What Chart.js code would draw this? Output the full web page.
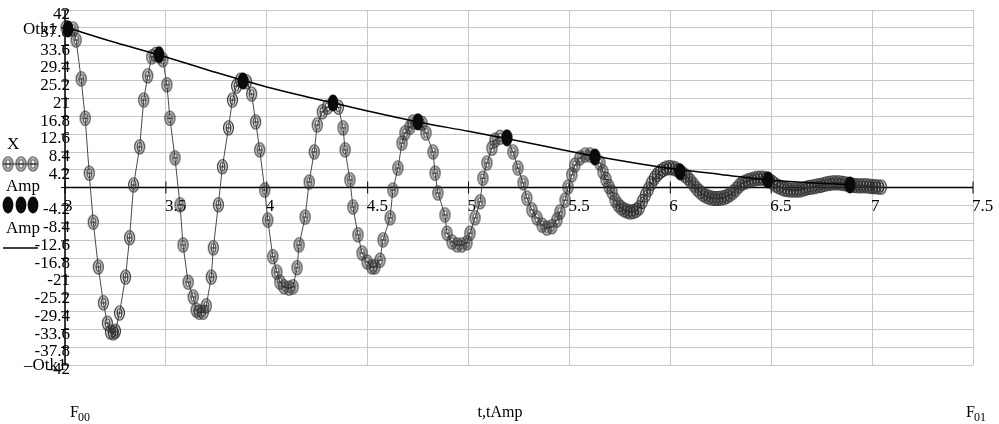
<!DOCTYPE html>
<html>
<head>
<meta charset="utf-8">
<script src="https://cdn.jsdelivr.net/npm/chart.js@4.4.1/dist/chart.umd.min.js"></script>
<style>
  html, body { margin: 0; padding: 0; background: #fff; }
  #wrap { width: 999px; height: 424px; position: relative; }
</style>
</head>
<body>
<div id="wrap"><canvas id="myChart"></canvas></div>
<script>
// axis ticks
const xTicks = [3, 3.5, 4, 4.5, 5, 5.5, 6, 6.5, 7, 7.5];
const xTickLabels = ['3', '3.5', '4', '4.5', '5', '5.5', '6', '6.5', '7', '7.5'];
const yTicks = [42, 37.8, 33.6, 29.4, 25.2, 21, 16.8, 12.6, 8.4, 4.2, 0,
    -4.2, -8.4, -12.6, -16.8, -21, -25.2, -29.4, -33.6, -37.8, -42];
const yTickLabels = ['42', '37.8', '33.6', '29.4', '25.2', '21', '16.8', '12.6', '8.4', '4.2', '',
    '-4.2', '-8.4', '-12.6', '-16.8', '-21', '-25.2', '-29.4', '-33.6', '-37.8', '-42'];

// X(t) - solver output
const tX = [
    3.005, 3.04, 3.055, 3.08, 3.10, 3.12, 3.14, 3.165, 3.19, 3.21,
    3.225, 3.24, 3.25, 3.27, 3.30, 3.32, 3.34, 3.37, 3.39, 3.41,
    3.43, 3.45, 3.485, 3.505, 3.52, 3.545, 3.57, 3.585, 3.61, 3.635,
    3.65, 3.665, 3.685, 3.70, 3.725, 3.735, 3.76, 3.78, 3.81, 3.83,
    3.85, 3.87, 3.90, 3.925, 3.945, 3.965, 3.99, 4.005, 4.03, 4.05,
    4.065, 4.085, 4.11, 4.13, 4.15, 4.16, 4.19, 4.21, 4.235, 4.25,
    4.275, 4.30, 4.355, 4.378, 4.388, 4.412, 4.427, 4.452, 4.472, 4.497,
    4.521, 4.536, 4.561, 4.576, 4.611, 4.625, 4.650, 4.670, 4.685, 4.710,
    4.724, 4.749, 4.769, 4.789, 4.824, 4.834, 4.848, 4.883, 4.893, 4.918,
    4.943, 4.967, 4.992, 5.007, 5.032, 5.057, 5.071, 5.091, 5.116, 5.131,
    5.156, 5.190, 5.220, 5.245, 5.270, 5.289, 5.314, 5.339, 5.364, 5.388,
    5.413, 5.438, 5.453, 5.478, 5.493, 5.512, 5.527, 5.552, 5.577, 5.602,
    5.626, 5.651, 5.666, 5.681, 5.696, 5.711, 5.726, 5.741, 5.756, 5.771,
    5.786, 5.801, 5.816, 5.831, 5.846, 5.861, 5.876, 5.891, 5.906, 5.921,
    5.936, 5.951, 5.966, 5.981, 5.996, 6.011, 6.026, 6.041, 6.056, 6.071,
    6.086, 6.101, 6.116, 6.131, 6.146, 6.161, 6.176, 6.191, 6.206, 6.221,
    6.236, 6.251, 6.266, 6.281, 6.296, 6.311, 6.326, 6.341, 6.356, 6.371,
    6.386, 6.401, 6.416, 6.431, 6.446, 6.461, 6.476, 6.491, 6.506, 6.521,
    6.536, 6.551, 6.566, 6.581, 6.596, 6.611, 6.626, 6.641, 6.656, 6.671,
    6.686, 6.701, 6.716, 6.731, 6.746, 6.761, 6.776, 6.791, 6.806, 6.821,
    6.836, 6.851, 6.866, 6.881, 6.896, 6.911, 6.926, 6.941, 6.956, 6.971,
    6.986, 7.001, 7.016, 7.031, 7.046
];
const vX = [
    37.8, 37.5, 34.9, 25.7, 16.4, 3.4, -8.2, -18.8, -27.3, -32.1,
    -34.2, -34.4, -34.0, -29.7, -21.2, -11.9, 0.6, 9.6, 20.7, 26.4,
    30.9, 31.5, 30.2, 24.3, 16.4, 7.0, -4.1, -13.6, -22.4, -25.9,
    -29.0, -29.5, -29.5, -28.0, -21.2, -14.3, -4.1, 4.9, 14.1, 20.7,
    24.0, 25.4, 25.0, 22.1, 15.5, 8.9, -0.6, -7.7, -16.4, -20.0,
    -22.4, -23.5, -23.8, -23.5, -19.0, -13.6, -7.0, 1.3, 8.4, 14.8,
    17.9, 19.0, 19.0, 14.1, 8.9, 1.8, -4.6, -11.2, -15.5, -17.6,
    -18.8, -18.8, -17.2, -12.4, -7.2, -0.6, 4.6, 10.5, 12.9, 14.3,
    15.5, 15.7, 15.2, 12.9, 8.4, 3.4, -1.3, -6.5, -10.8, -12.9,
    -13.6, -13.6, -13.1, -10.8, -7.2, -3.4, 2.2, 5.8, 9.3, 11.2,
    11.9, 11.9, 8.4, 4.6, 1.1, -2.5, -5.3, -7.2, -8.9, -9.6,
    -9.3, -7.7, -5.8, -3.0, 0.1, 3.0, 5.3, 7.0, 7.7, 7.7,
    7.3, 5.8, 3.7, 1.9, 0.2, -1.1, -3.0, -4.1, -4.8, -5.3,
    -5.6, -5.8, -5.7, -5.4, -4.8, -3.3, -1.8, -0.4, 1.0, 2.2,
    3.1, 3.8, 4.3, 4.6, 4.7, 4.6, 4.4, 4.0, 3.5, 2.9,
    2.3, 1.5, 0.6, -0.3, -1.0, -1.6, -2.0, -2.3, -2.5, -2.6,
    -2.6, -2.5, -2.4, -2.1, -1.7, -1.1, -0.4, 0.4, 1.0, 1.3,
    1.6, 1.8, 2.0, 2.2, 2.2, 2.2, 2.0, 1.7, 1.2, 0.6,
    0.2, -0.1, -0.4, -0.5, -0.6, -0.6, -0.6, -0.6, -0.4, -0.2,
    0.0, 0.1, 0.2, 0.4, 0.5, 0.7, 0.9, 1.0, 1.1, 1.1,
    1.1, 1.0, 0.9, 0.7, 0.6, 0.5, 0.4, 0.4, 0.4, 0.4,
    0.3, 0.2, 0.2, 0.1, 0.1
];

// Amp - peak points
const tAmp = [3.015, 3.466, 3.882, 4.328, 4.749, 5.190, 5.626, 6.048, 6.484, 6.890];
const vAmp = [37.5, 31.4, 25.2, 20.0, 15.5, 11.7, 7.2, 3.7, 1.8, 0.6];

// Amp - envelope curve
const tEnv = [3.0, 3.25, 3.5, 3.75, 4.0, 4.25, 4.5, 4.75, 5.0, 5.25, 5.5, 5.75, 6.0, 6.25, 6.5, 6.75, 6.89];
const vEnv = [38.0, 34.3, 30.9, 27.2, 23.8, 20.9, 18.1, 15.5, 13.3, 11.0, 8.6, 6.4, 4.5, 3.1, 1.7, 1.0, 0.6];

const SERIF = '"Liberation Serif", "Times New Roman", serif';

function hollowMark() {
    const c = document.createElement('canvas');
    c.width = 13; c.height = 17;
    const g = c.getContext('2d');
    g.strokeStyle = '#2e2e2e';
    g.lineWidth = 1.2;
    g.beginPath(); g.ellipse(6.5, 8.5, 4.9, 7, 0, 0, Math.PI * 2); g.stroke();
    g.beginPath(); g.ellipse(6.5, 8.5, 2.4, 4.5, 0, 0, Math.PI * 2); g.stroke();
    g.beginPath(); g.moveTo(4, 8.5); g.lineTo(9, 8.5); g.stroke();
    return c;
}
function filledMark() {
    const c = document.createElement('canvas');
    c.width = 12; c.height = 18;
    const g = c.getContext('2d');
    g.fillStyle = '#0a0a0a';
    g.beginPath(); g.ellipse(6, 9, 5.4, 8.5, 0, 0, Math.PI * 2); g.fill();
    return c;
}
const hollow = hollowMark();
const filled = filledMark();

const decor = {
    id: 'decor',
    beforeDatasetsDraw(chart) {
        const { ctx, chartArea: a, scales: { x, y } } = chart;
        const x0 = x.getPixelForValue(3);
        const y0 = y.getPixelForValue(0);
        ctx.save();
        ctx.strokeStyle = '#000';
        ctx.lineWidth = 1.5;
        ctx.beginPath();
        ctx.moveTo(x0, a.top); ctx.lineTo(x0, a.bottom);
        ctx.moveTo(a.left, y0); ctx.lineTo(a.right, y0);
        ctx.stroke();

        ctx.lineWidth = 1;
        ctx.font = '17px ' + SERIF;
        ctx.fillStyle = '#000';
        ctx.textBaseline = 'alphabetic';
        ctx.textAlign = 'left';
        xTicks.forEach((v, i) => {
            const px = x.getPixelForValue(v);
            ctx.beginPath();
            ctx.moveTo(px, y0 - 6); ctx.lineTo(px, y0 + 6);
            ctx.stroke();
            ctx.fillText(xTickLabels[i], px - 1, y0 + 23);
        });
        ctx.textAlign = 'right';
        yTicks.forEach((v, i) => {
            const py = y.getPixelForValue(v);
            ctx.beginPath();
            ctx.moveTo(x0 - 4, py); ctx.lineTo(x0 + 4, py);
            ctx.stroke();
            if (yTickLabels[i]) ctx.fillText(yTickLabels[i], x0 + 5, py + 9);
        });
        ctx.textAlign = 'left';
        ctx.fillText('Otk1', 23, y.getPixelForValue(37.6) + 5);
        ctx.fillText('\u2013Otk1', 24, y.getPixelForValue(-42) + 5);
        ctx.restore();
    },
    afterDraw(chart) {
        const { ctx } = chart;
        ctx.save();
        ctx.font = '17px ' + SERIF;
        ctx.fillStyle = '#000';
        ctx.textAlign = 'left';
        ctx.textBaseline = 'alphabetic';
        // legend
        ctx.fillText('X', 7, 149);
        ctx.strokeStyle = '#2e2e2e';
        ctx.lineWidth = 1.2;
        ctx.beginPath(); ctx.moveTo(3, 164); ctx.lineTo(38, 164); ctx.stroke();
        [8, 21, 33].forEach(cx => ctx.drawImage(hollow, cx - 6.5, 164 - 8.5));
        ctx.fillText('Amp', 6, 191);
        [8, 21, 33].forEach(cx => ctx.drawImage(filled, cx - 6, 205 - 9));
        ctx.fillText('Amp', 6, 233);
        ctx.strokeStyle = '#000';
        ctx.lineWidth = 1.5;
        ctx.beginPath(); ctx.moveTo(3, 248); ctx.lineTo(38, 248); ctx.stroke();

        // bottom labels
        ctx.font = '16px ' + SERIF;
        ctx.fillText('F', 70, 417);
        ctx.font = '12px ' + SERIF;
        ctx.fillText('00', 78, 421);
        ctx.font = '16px ' + SERIF;
        ctx.textAlign = 'center';
        ctx.fillText('t,tAmp', 500, 417);
        ctx.textAlign = 'left';
        ctx.fillText('F', 966, 417);
        ctx.font = '12px ' + SERIF;
        ctx.fillText('01', 974, 421);
        ctx.restore();
    }
};

const data = {
    datasets: [
        {
            label: 'X',
            data: tX.map((t, i) => ({ x: t, y: vX[i] })),
            showLine: true,
            borderColor: '#4a4a4a',
            borderWidth: 1,
            pointStyle: hollow,
            clip: false,
            order: 3
        },
        {
            label: 'Amp',
            data: tAmp.map((t, i) => ({ x: t, y: vAmp[i] })),
            showLine: false,
            pointStyle: filled,
            clip: false,
            order: 1
        },
        {
            label: 'Amp curve',
            data: tEnv.map((t, i) => ({ x: t, y: vEnv[i] })),
            showLine: true,
            borderColor: '#000',
            borderWidth: 1.5,
            pointRadius: 0,
            cubicInterpolationMode: 'monotone',
            order: 2
        }
    ]
};

const config = {
    type: 'scatter',
    data: data,
    options: {
        responsive: true,
        maintainAspectRatio: false,
        animation: false,
        events: [],
        layout: { padding: { left: 65, right: 26, top: 10, bottom: 59 } },
        plugins: {
            legend: { display: false },
            tooltip: { enabled: false }
        },
        scales: {
            x: {
                type: 'linear',
                min: 3,
                max: 7.5,
                afterBuildTicks: s => { s.ticks = xTicks.map(v => ({ value: v })); },
                ticks: { display: false },
                grid: { color: '#c8c8c8', drawTicks: false },
                border: { display: false }
            },
            y: {
                type: 'linear',
                min: -42,
                max: 42,
                afterBuildTicks: s => { s.ticks = yTicks.map(v => ({ value: v })); },
                ticks: { display: false },
                grid: { color: '#c8c8c8', drawTicks: false },
                border: { display: false }
            }
        }
    },
    plugins: [decor]
};

const myChart = new Chart(document.getElementById('myChart'), config);
</script>
</body>
</html>
